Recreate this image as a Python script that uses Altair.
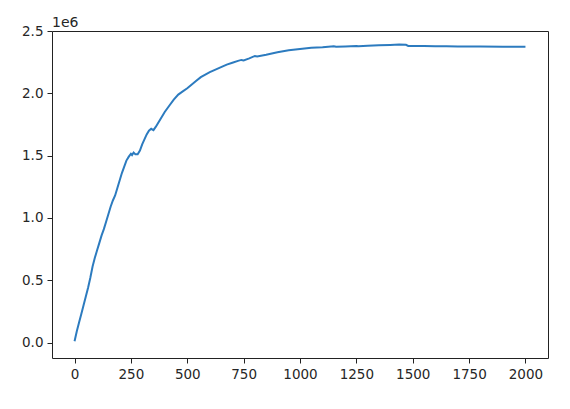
import altair as alt
import pandas as pd

steps = [0, 10, 20, 30, 40, 50, 60, 70, 80, 90, 100, 110, 120, 130, 140, 150, 160, 170, 180, 190,
         200, 210, 220, 230, 240, 250, 255, 262, 270, 280, 290, 300, 310, 320, 330, 340, 350, 360,
         380, 400, 420, 440, 460, 480, 500, 520, 540, 560, 580, 600, 625, 650, 675, 700, 725, 740,
         750, 775, 800, 810, 850, 900, 950, 1000, 1050, 1100, 1150, 1160, 1200, 1250, 1260, 1300,
         1350, 1400, 1440, 1470, 1480, 1550, 1600, 1650, 1700, 1800, 1900, 2000]
values_1e6 = [0.01, 0.09, 0.16, 0.23, 0.30, 0.37, 0.44, 0.52, 0.61, 0.68, 0.74, 0.80, 0.86, 0.91, 0.97,
              1.03, 1.09, 1.14, 1.18, 1.24, 1.30, 1.36, 1.41, 1.46, 1.49, 1.515, 1.505, 1.525, 1.51, 1.51,
              1.54, 1.59, 1.63, 1.67, 1.70, 1.715, 1.705, 1.73, 1.79, 1.85, 1.90, 1.95, 1.99, 2.015, 2.04,
              2.07, 2.10, 2.13, 2.15, 2.17, 2.19, 2.21, 2.23, 2.245, 2.26, 2.268, 2.264, 2.28, 2.30, 2.296,
              2.31, 2.33, 2.345, 2.355, 2.365, 2.37, 2.378, 2.374, 2.376, 2.38, 2.378, 2.382, 2.385, 2.388,
              2.391, 2.389, 2.38, 2.379, 2.378, 2.377, 2.376, 2.375, 2.374, 2.373]
x_ticks = [0, 250, 500, 750, 1000, 1250, 1500, 1750, 2000]
y_ticks = [0.0, 0.5, 1.0, 1.5, 2.0, 2.5]
offset_label = "1e6"

df = pd.DataFrame({"step": steps, "value": values_1e6})

FONT = "DejaVu Sans"

line = alt.Chart(df).mark_line(color="#2c7bbf", strokeWidth=2).encode(
    x=alt.X("step:Q", scale=alt.Scale(domain=[-100, 2100], nice=False, zero=False),
            axis=alt.Axis(values=x_ticks, title=None, grid=False, format="d")),
    y=alt.Y("value:Q", scale=alt.Scale(domain=[-0.124, 2.5], nice=False, zero=False),
            axis=alt.Axis(values=y_ticks, title=None, grid=False, format=".1f")),
)

label = alt.Chart(pd.DataFrame({"t": [offset_label]})).mark_text(
    align="left", baseline="alphabetic", font=FONT, fontSize=14, color="#262626"
).encode(x=alt.value(0), y=alt.value(-4), text="t:N")

chart = alt.layer(line, label).properties(
    width=496, height=327,
    autosize=alt.AutoSizeParams(type="none"),
    padding={"left": 44, "top": 23, "right": 14, "bottom": 43},
    background="white",
).configure_view(
    stroke="#222222", strokeWidth=1
).configure_axis(
    domain=False, tickColor="#222222", tickSize=5, tickWidth=1,
    labelFont=FONT, labelFontSize=13.5, labelColor="#262626", labelPadding=4,
)

chart.save("out.html", embed_options={"renderer": "svg", "actions": False})
